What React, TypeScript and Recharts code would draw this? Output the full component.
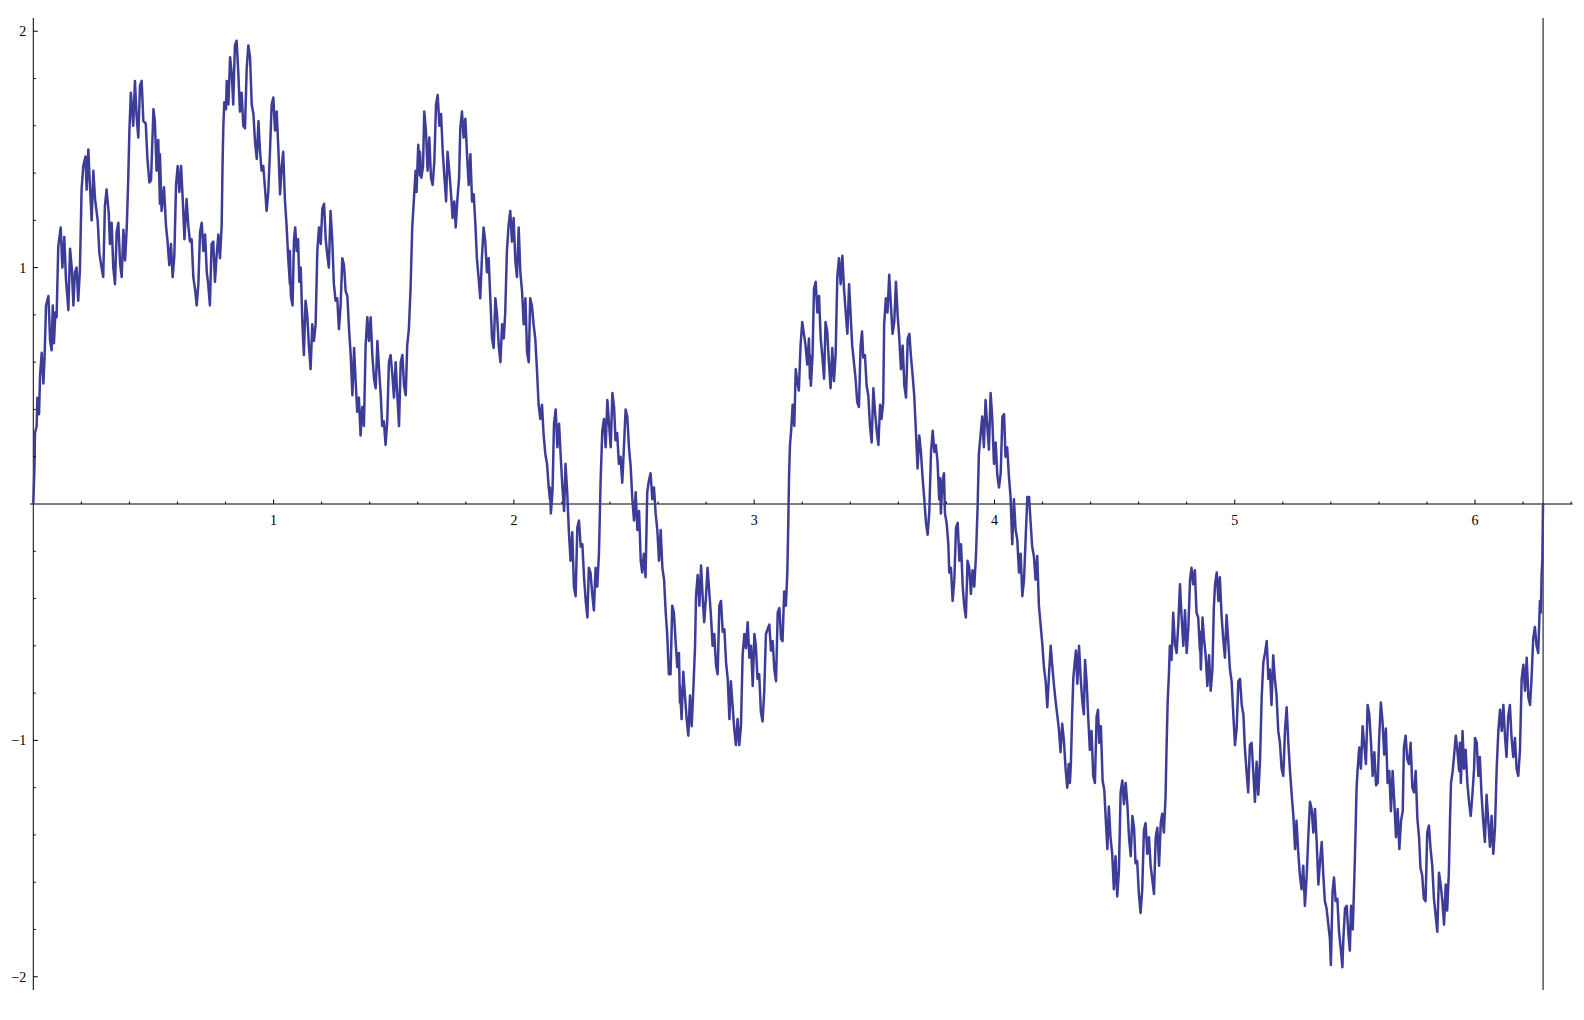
import { LineChart, Line, XAxis, YAxis, ReferenceLine, ReferenceDot } from "recharts";

// curve samples, [x, y], left to right
const partA: [number, number][] = [
  [0, 0], [0.005, 0.16], [0.007, 0.3], [0.014, 0.33], [0.017, 0.45], [0.024, 0.38], [0.028, 0.54], [0.035, 0.64],
  [0.042, 0.51], [0.047, 0.62], [0.053, 0.84], [0.063, 0.88], [0.07, 0.69], [0.076, 0.65], [0.081, 0.84], [0.086, 0.68],
  [0.092, 0.81], [0.097, 0.79], [0.104, 1.09], [0.114, 1.17], [0.121, 1.0], [0.129, 1.13], [0.136, 0.95], [0.146, 0.82],
  [0.153, 1.08], [0.16, 1.0], [0.167, 0.84], [0.173, 0.98], [0.18, 1.0], [0.187, 0.86], [0.194, 0.99], [0.201, 1.33],
  [0.208, 1.43], [0.217, 1.47], [0.222, 1.33], [0.229, 1.5], [0.236, 1.34], [0.243, 1.2], [0.25, 1.41], [0.257, 1.29],
  [0.268, 1.2], [0.275, 1.06], [0.284, 1.0], [0.291, 0.96], [0.298, 1.26], [0.305, 1.33], [0.314, 1.23], [0.319, 1.1],
  [0.326, 1.19], [0.333, 1.0], [0.34, 0.93], [0.347, 1.15], [0.354, 1.19], [0.361, 1.02], [0.368, 0.96], [0.375, 1.16],
  [0.382, 1.03], [0.389, 1.17], [0.395, 1.37], [0.4, 1.58], [0.406, 1.74], [0.416, 1.6], [0.423, 1.79], [0.43, 1.64],
  [0.437, 1.55], [0.444, 1.77], [0.451, 1.79], [0.458, 1.62], [0.468, 1.61], [0.475, 1.46], [0.483, 1.36], [0.49, 1.37],
  [0.5, 1.67], [0.506, 1.62], [0.513, 1.41], [0.52, 1.54], [0.527, 1.27],
];

const partB: [number, number][] = [
  [0.527, 1.48], [0.534, 1.24], [0.544, 1.34], [0.552, 1.18], [0.558, 1.12], [0.566, 1.01], [0.573, 1.1], [0.58, 0.96],
  [0.587, 1.05], [0.594, 1.35], [0.601, 1.43], [0.608, 1.32], [0.615, 1.43], [0.622, 1.29], [0.629, 1.12], [0.638, 1.29],
  [0.645, 1.18], [0.652, 1.11], [0.659, 1.12], [0.666, 0.96], [0.673, 0.91], [0.68, 0.84], [0.687, 0.93], [0.694, 1.15],
  [0.701, 1.19], [0.708, 1.07], [0.715, 1.14], [0.722, 0.98], [0.728, 0.93], [0.735, 0.84], [0.742, 1.1], [0.749, 1.11],
  [0.756, 0.94], [0.763, 1.05], [0.77, 1.14], [0.777, 1.04], [0.784, 1.18], [0.788, 1.46], [0.791, 1.6], [0.795, 1.7],
  [0.802, 1.67], [0.805, 1.79], [0.812, 1.69], [0.819, 1.89], [0.826, 1.82], [0.832, 1.69], [0.839, 1.94], [0.846, 1.96],
  [0.853, 1.83], [0.86, 1.66], [0.867, 1.74], [0.874, 1.6], [0.881, 1.59], [0.888, 1.84], [0.895, 1.94], [0.902, 1.89],
  [0.909, 1.69], [0.916, 1.65], [0.923, 1.53], [0.93, 1.46], [0.937, 1.62], [0.943, 1.5], [0.95, 1.41], [0.957, 1.43],
  [0.964, 1.34], [0.971, 1.24], [0.978, 1.32], [0.985, 1.49], [0.992, 1.69], [0.999, 1.72], [1.006, 1.58], [1.013, 1.66],
  [1.02, 1.5], [1.027, 1.31], [1.034, 1.43], [1.04, 1.49], [1.047, 1.29], [1.054, 1.18], [1.061, 1.04], [1.068, 0.93],
];

const partC: [number, number][] = [
  [1.068, 1.07], [1.072, 0.88], [1.079, 0.84], [1.085, 1.12], [1.09, 1.17], [1.096, 1.07], [1.102, 1.12], [1.107, 0.94],
  [1.113, 1.0], [1.12, 0.76], [1.126, 0.63], [1.133, 0.86], [1.14, 0.8], [1.147, 0.67], [1.154, 0.57], [1.161, 0.76],
  [1.168, 0.69], [1.175, 0.76], [1.182, 1.07], [1.189, 1.17], [1.196, 1.1], [1.203, 1.25], [1.21, 1.27], [1.217, 1.12],
  [1.224, 1.05], [1.23, 1.0], [1.237, 1.24], [1.244, 1.12], [1.251, 0.93], [1.258, 0.86], [1.265, 0.87], [1.272, 0.74],
  [1.279, 0.84], [1.286, 1.04], [1.293, 1.01], [1.3, 0.9], [1.307, 0.88], [1.314, 0.74], [1.321, 0.63], [1.328, 0.46],
  [1.335, 0.66], [1.341, 0.53], [1.348, 0.39], [1.355, 0.45], [1.362, 0.29], [1.369, 0.41], [1.376, 0.33], [1.383, 0.67],
  [1.39, 0.79], [1.397, 0.69], [1.404, 0.79], [1.411, 0.63], [1.418, 0.53], [1.425, 0.49], [1.432, 0.69], [1.439, 0.57],
  [1.446, 0.46], [1.452, 0.33], [1.459, 0.35], [1.466, 0.25], [1.473, 0.35], [1.48, 0.6], [1.487, 0.63], [1.494, 0.55],
  [1.501, 0.45], [1.508, 0.6], [1.515, 0.46], [1.522, 0.33], [1.529, 0.6], [1.536, 0.63], [1.543, 0.5], [1.55, 0.46],
  [1.556, 0.67], [1.563, 0.74], [1.57, 0.91], [1.577, 1.17], [1.584, 1.29], [1.591, 1.41], [1.595, 1.32], [1.602, 1.52],
  [1.609, 1.39],
];

const partD: [number, number][] = [
  [1.609, 1.49], [1.615, 1.38], [1.622, 1.43], [1.627, 1.66], [1.634, 1.58], [1.641, 1.41], [1.648, 1.55], [1.655, 1.38],
  [1.662, 1.35], [1.669, 1.45], [1.676, 1.69], [1.683, 1.73], [1.69, 1.6], [1.697, 1.65], [1.704, 1.49], [1.711, 1.38],
  [1.718, 1.28], [1.724, 1.49], [1.731, 1.41], [1.738, 1.32], [1.745, 1.21], [1.752, 1.28], [1.758, 1.17], [1.765, 1.29],
  [1.772, 1.38], [1.777, 1.59], [1.784, 1.66], [1.791, 1.55], [1.798, 1.63], [1.805, 1.48], [1.812, 1.35], [1.819, 1.48],
  [1.826, 1.28], [1.833, 1.31], [1.84, 1.18], [1.846, 1.04], [1.853, 0.96], [1.86, 0.87], [1.867, 1.04], [1.874, 1.17],
  [1.881, 1.11], [1.888, 0.98], [1.895, 1.04], [1.902, 0.87], [1.909, 0.7], [1.916, 0.66], [1.923, 0.87], [1.93, 0.8],
  [1.937, 0.67], [1.944, 0.6], [1.951, 0.76], [1.958, 0.7], [1.964, 0.81], [1.971, 1.07], [1.978, 1.18], [1.985, 1.24],
  [1.992, 1.11], [1.999, 1.21], [2.006, 1.03], [2.013, 0.96], [2.02, 1.17], [2.027, 0.98], [2.034, 0.9], [2.041, 0.76],
  [2.048, 0.87], [2.055, 0.64], [2.062, 0.6], [2.068, 0.87], [2.075, 0.84], [2.082, 0.76], [2.089, 0.7], [2.096, 0.57],
  [2.103, 0.42], [2.11, 0.36], [2.117, 0.42], [2.124, 0.29], [2.131, 0.21], [2.138, 0.17], [2.145, 0.07], [2.15, 0.02],
];

const partE: [number, number][] = [
  [2.15, 0.07], [2.154, -0.04], [2.161, 0.06], [2.167, 0.34], [2.174, 0.4], [2.181, 0.24], [2.188, 0.34], [2.195, 0.2],
  [2.202, 0.07], [2.209, -0.03], [2.215, 0.17], [2.222, 0.05], [2.229, -0.12], [2.236, -0.24], [2.243, -0.12], [2.25, -0.35],
  [2.257, -0.39], [2.264, -0.1], [2.271, -0.07], [2.278, -0.18], [2.285, -0.17], [2.292, -0.31], [2.299, -0.41], [2.306, -0.48],
  [2.312, -0.27], [2.319, -0.29], [2.326, -0.38], [2.333, -0.45], [2.34, -0.27], [2.347, -0.35], [2.354, -0.21], [2.361, 0.1],
  [2.368, 0.31], [2.375, 0.36], [2.382, 0.24], [2.389, 0.44], [2.396, 0.34], [2.403, 0.24], [2.41, 0.47], [2.417, 0.41],
  [2.423, 0.27], [2.43, 0.3], [2.437, 0.17], [2.444, 0.2], [2.451, 0.09], [2.458, 0.24], [2.465, 0.4], [2.472, 0.37],
  [2.479, 0.24], [2.486, 0.16], [2.493, 0.02], [2.5, -0.07], [2.507, 0.05], [2.514, -0.11], [2.521, -0.03], [2.528, -0.24],
  [2.534, -0.29], [2.541, -0.21], [2.548, -0.31], [2.555, 0.05], [2.562, 0.1], [2.569, 0.13], [2.576, 0.02], [2.583, 0.07],
  [2.59, -0.04], [2.597, -0.11], [2.604, -0.24], [2.611, -0.11], [2.618, -0.27], [2.625, -0.32], [2.632, -0.46], [2.638, -0.55],
  [2.645, -0.72], [2.652, -0.72], [2.659, -0.43], [2.666, -0.46], [2.673, -0.58], [2.68, -0.69], [2.687, -0.63], [2.691, -0.84],
];

const partF: [number, number][] = [
  [2.691, -0.77], [2.698, -0.91], [2.705, -0.71], [2.712, -0.81], [2.719, -0.91], [2.726, -0.98], [2.733, -0.81], [2.74, -0.94],
  [2.747, -0.78], [2.754, -0.6], [2.758, -0.39], [2.765, -0.3], [2.772, -0.43], [2.779, -0.26], [2.786, -0.4], [2.792, -0.5],
  [2.799, -0.4], [2.806, -0.27], [2.813, -0.37], [2.82, -0.47], [2.827, -0.6], [2.834, -0.55], [2.841, -0.68], [2.848, -0.72],
  [2.855, -0.43], [2.862, -0.41], [2.869, -0.54], [2.876, -0.53], [2.883, -0.67], [2.89, -0.74], [2.897, -0.91], [2.903, -0.75],
  [2.91, -0.85], [2.917, -0.95], [2.924, -1.02], [2.931, -0.91], [2.938, -1.02], [2.945, -0.94], [2.952, -0.64], [2.959, -0.55],
  [2.966, -0.61], [2.973, -0.5], [2.98, -0.65], [2.987, -0.6], [2.994, -0.77], [3.001, -0.55], [3.007, -0.6], [3.014, -0.74],
  [3.021, -0.72], [3.028, -0.88], [3.035, -0.92], [3.042, -0.79], [3.049, -0.55], [3.056, -0.53], [3.063, -0.51], [3.07, -0.62],
  [3.077, -0.58], [3.084, -0.7], [3.091, -0.75], [3.098, -0.46], [3.105, -0.44], [3.112, -0.57], [3.118, -0.58], [3.125, -0.37],
  [3.132, -0.43], [3.138, -0.29], [3.142, -0.08], [3.145, 0.11], [3.149, 0.25], [3.154, 0.31], [3.16, 0.42], [3.167, 0.33],
  [3.173, 0.57], [3.179, 0.52], [3.186, 0.48], [3.193, 0.67], [3.2, 0.77], [3.207, 0.72], [3.214, 0.67], [3.221, 0.59],
  [3.228, 0.7], [3.232, 0.53],
];

const partG: [number, number][] = [
  [3.232, 0.63], [3.236, 0.5], [3.243, 0.63], [3.249, 0.91], [3.256, 0.94], [3.263, 0.81], [3.27, 0.88], [3.277, 0.7],
  [3.284, 0.62], [3.291, 0.53], [3.297, 0.77], [3.304, 0.73], [3.311, 0.6], [3.318, 0.49], [3.325, 0.66], [3.332, 0.52],
  [3.339, 0.63], [3.346, 0.96], [3.353, 1.04], [3.36, 0.93], [3.367, 1.05], [3.374, 0.91], [3.381, 0.81], [3.388, 0.72],
  [3.395, 0.93], [3.401, 0.81], [3.408, 0.67], [3.415, 0.6], [3.422, 0.53], [3.429, 0.43], [3.436, 0.41], [3.443, 0.67],
  [3.449, 0.73], [3.454, 0.62], [3.461, 0.63], [3.468, 0.5], [3.475, 0.46], [3.482, 0.33], [3.489, 0.26], [3.496, 0.49],
  [3.503, 0.39], [3.51, 0.31], [3.517, 0.25], [3.524, 0.42], [3.53, 0.36], [3.537, 0.43], [3.541, 0.76], [3.548, 0.87],
  [3.555, 0.81], [3.562, 0.97], [3.569, 0.84], [3.576, 0.72], [3.583, 0.77], [3.59, 0.94], [3.597, 0.8], [3.604, 0.7],
  [3.611, 0.57], [3.618, 0.67], [3.625, 0.5], [3.632, 0.45], [3.639, 0.7], [3.646, 0.72], [3.652, 0.63], [3.659, 0.55],
  [3.666, 0.46], [3.673, 0.31], [3.68, 0.15], [3.687, 0.29], [3.694, 0.22], [3.701, 0.11], [3.708, 0.02], [3.715, -0.08],
  [3.722, -0.13], [3.729, -0.03], [3.736, 0.22], [3.743, 0.31], [3.75, 0.22], [3.756, 0.25], [3.763, 0.18], [3.77, 0.02],
  [3.773, 0.11],
];

const partH: [number, number][] = [
  [3.777, -0.04], [3.784, 0.1], [3.79, 0.13], [3.794, -0.04], [3.801, -0.08], [3.808, -0.17], [3.812, -0.29], [3.819, -0.27],
  [3.826, -0.41], [3.833, -0.32], [3.84, -0.1], [3.847, -0.08], [3.854, -0.24], [3.861, -0.17], [3.868, -0.35], [3.874, -0.43],
  [3.881, -0.48], [3.888, -0.24], [3.895, -0.27], [3.902, -0.38], [3.909, -0.28], [3.916, -0.35], [3.923, -0.22], [3.93, -0.01],
  [3.935, 0.21], [3.942, 0.29], [3.949, 0.37], [3.956, 0.24], [3.963, 0.44], [3.97, 0.33], [3.977, 0.23], [3.984, 0.47],
  [3.991, 0.36], [3.998, 0.17], [4.005, 0.26], [4.012, 0.12], [4.019, 0.07], [4.026, 0.13], [4.033, 0.37], [4.04, 0.38],
  [4.046, 0.2], [4.053, 0.24], [4.06, 0.12], [4.067, 0.03], [4.074, -0.17], [4.081, 0.02], [4.088, -0.11], [4.095, -0.15],
  [4.102, -0.29], [4.109, -0.21], [4.116, -0.39], [4.123, -0.32], [4.13, -0.14], [4.137, 0.03], [4.144, 0.03], [4.15, -0.07],
  [4.157, -0.18], [4.164, -0.22], [4.171, -0.32], [4.178, -0.22], [4.185, -0.43], [4.192, -0.51], [4.199, -0.59], [4.206, -0.69],
  [4.213, -0.75], [4.22, -0.86], [4.227, -0.72], [4.234, -0.6], [4.241, -0.69], [4.248, -0.77], [4.254, -0.83], [4.261, -0.89],
  [4.268, -0.95], [4.275, -1.05], [4.282, -0.93], [4.289, -1.0], [4.296, -1.12], [4.303, -1.2], [4.309, -1.1],
];

const partI: [number, number][] = [
  [4.314, -1.18], [4.318, -1.1], [4.323, -0.9], [4.328, -0.74], [4.334, -0.67], [4.339, -0.62], [4.345, -0.76], [4.352, -0.6],
  [4.359, -0.74], [4.366, -0.84], [4.372, -0.89], [4.377, -0.66], [4.384, -0.76], [4.39, -0.9], [4.397, -1.04], [4.404, -0.96],
  [4.411, -1.15], [4.418, -1.18], [4.425, -0.9], [4.431, -0.87], [4.436, -1.01], [4.443, -0.94], [4.45, -1.17], [4.457, -1.21],
  [4.464, -1.35], [4.47, -1.46], [4.476, -1.28], [4.483, -1.41], [4.49, -1.48], [4.497, -1.63], [4.504, -1.49], [4.511, -1.66],
  [4.518, -1.55], [4.525, -1.22], [4.532, -1.17], [4.539, -1.27], [4.546, -1.18], [4.553, -1.27], [4.56, -1.41], [4.567, -1.49],
  [4.574, -1.32], [4.581, -1.37], [4.587, -1.52], [4.594, -1.51], [4.601, -1.65], [4.608, -1.73], [4.615, -1.63], [4.622, -1.38],
  [4.629, -1.35], [4.636, -1.48], [4.643, -1.41], [4.65, -1.53], [4.657, -1.59], [4.664, -1.65], [4.671, -1.41], [4.678, -1.37],
  [4.685, -1.53], [4.692, -1.35], [4.698, -1.31], [4.705, -1.39], [4.712, -1.24], [4.716, -1.04], [4.721, -0.83], [4.726, -0.72],
  [4.73, -0.6], [4.737, -0.66], [4.744, -0.46], [4.751, -0.59], [4.758, -0.63], [4.765, -0.51], [4.772, -0.34], [4.779, -0.48],
  [4.786, -0.6], [4.793, -0.45], [4.8, -0.63], [4.807, -0.52], [4.814, -0.32], [4.82, -0.27], [4.827, -0.34], [4.834, -0.28],
  [4.841, -0.46], [4.848, -0.48], [4.855, -0.62],
];

const partJ: [number, number][] = [
  [4.855, -0.54], [4.859, -0.7], [4.866, -0.48], [4.872, -0.57], [4.879, -0.64], [4.886, -0.77], [4.893, -0.64], [4.9, -0.79],
  [4.907, -0.7], [4.913, -0.44], [4.918, -0.34], [4.925, -0.29], [4.932, -0.41], [4.938, -0.31], [4.945, -0.47], [4.952, -0.57],
  [4.959, -0.65], [4.966, -0.47], [4.973, -0.58], [4.98, -0.7], [4.987, -0.75], [4.994, -0.89], [5.001, -1.02], [5.008, -0.95],
  [5.015, -0.75], [5.022, -0.74], [5.029, -0.85], [5.036, -0.89], [5.042, -1.03], [5.049, -1.13], [5.056, -1.22], [5.063, -1.02],
  [5.07, -1.01], [5.077, -1.13], [5.084, -1.26], [5.091, -1.09], [5.098, -1.23], [5.105, -1.09], [5.112, -0.82], [5.119, -0.67],
  [5.126, -0.63], [5.133, -0.58], [5.14, -0.74], [5.146, -0.7], [5.153, -0.85], [5.16, -0.64], [5.167, -0.74], [5.174, -0.81],
  [5.181, -0.96], [5.188, -1.01], [5.195, -1.12], [5.202, -1.15], [5.209, -0.96], [5.216, -0.86], [5.223, -1.01], [5.23, -1.13],
  [5.237, -1.23], [5.244, -1.32], [5.251, -1.46], [5.257, -1.34], [5.264, -1.47], [5.271, -1.57], [5.278, -1.63], [5.285, -1.53],
  [5.292, -1.7], [5.299, -1.58], [5.306, -1.41], [5.313, -1.26], [5.32, -1.29], [5.327, -1.39], [5.334, -1.29], [5.341, -1.43],
  [5.348, -1.61], [5.355, -1.51], [5.362, -1.43], [5.368, -1.56], [5.375, -1.68], [5.382, -1.71],
];

const partK: [number, number][] = [
  [5.396, -1.84], [5.4, -1.95], [5.407, -1.64], [5.413, -1.58], [5.42, -1.68], [5.427, -1.67], [5.434, -1.81], [5.441, -1.88],
  [5.448, -1.96], [5.452, -1.84], [5.459, -1.71], [5.466, -1.7], [5.473, -1.82], [5.479, -1.89], [5.484, -1.7], [5.491, -1.8],
  [5.496, -1.64], [5.5, -1.5], [5.504, -1.33], [5.507, -1.2], [5.511, -1.13], [5.518, -1.03], [5.525, -1.12], [5.532, -0.94],
  [5.539, -1.02], [5.546, -1.1], [5.553, -0.85], [5.56, -0.89], [5.567, -1.01], [5.574, -1.15], [5.581, -1.05], [5.588, -1.19],
  [5.595, -1.18], [5.601, -0.99], [5.608, -0.84], [5.615, -0.92], [5.622, -1.06], [5.629, -0.95], [5.636, -1.18], [5.643, -1.13],
  [5.65, -1.3], [5.657, -1.13], [5.664, -1.26], [5.671, -1.41], [5.678, -1.29], [5.685, -1.46], [5.692, -1.34], [5.699, -1.3],
  [5.704, -1.03], [5.711, -0.98], [5.718, -1.08], [5.725, -1.1], [5.732, -1.01], [5.739, -1.2], [5.746, -1.22], [5.753, -1.13],
  [5.76, -1.33], [5.767, -1.41], [5.773, -1.54], [5.78, -1.57], [5.787, -1.67], [5.794, -1.68], [5.801, -1.39], [5.808, -1.36],
  [5.815, -1.46], [5.822, -1.53], [5.829, -1.67], [5.836, -1.74], [5.843, -1.81], [5.85, -1.56], [5.857, -1.61], [5.864, -1.68],
  [5.871, -1.78], [5.878, -1.61], [5.884, -1.72], [5.891, -1.56], [5.896, -1.33], [5.9, -1.18], [5.907, -1.13], [5.914, -1.05],
  [5.92, -0.98], [5.927, -1.05], [5.934, -1.13],
];

const partL: [number, number][] = [
  [5.937, -1.01], [5.941, -1.18], [5.948, -0.96], [5.954, -1.12], [5.961, -1.04], [5.968, -1.18], [5.975, -1.26], [5.982, -1.32],
  [5.989, -1.23], [5.996, -1.12], [6.0, -0.99], [6.007, -1.01], [6.014, -1.15], [6.02, -1.07], [6.027, -1.23], [6.034, -1.34],
  [6.041, -1.43], [6.048, -1.23], [6.055, -1.34], [6.062, -1.45], [6.069, -1.32], [6.076, -1.48], [6.083, -1.37], [6.09, -1.12],
  [6.097, -0.96], [6.104, -0.87], [6.111, -0.96], [6.118, -0.85], [6.125, -0.99], [6.131, -1.07], [6.138, -0.9], [6.145, -0.85],
  [6.152, -0.99], [6.159, -1.07], [6.166, -0.99], [6.173, -1.12], [6.18, -1.15], [6.187, -1.04], [6.194, -0.74], [6.201, -0.68],
  [6.208, -0.79], [6.215, -0.65], [6.222, -0.82], [6.229, -0.85], [6.235, -0.74], [6.242, -0.57], [6.249, -0.52], [6.256, -0.6],
  [6.263, -0.63], [6.27, -0.41], [6.274, -0.46], [6.277, -0.3], [6.28, -0.24], [6.282, -0.07], [6.283, 0],
];

// axis ticks
const xMajorTicks = [1, 2, 3, 4, 5, 6];
const xMinorTicks = [
  0.2, 0.4, 0.6, 0.8, 1.2, 1.4, 1.6, 1.8, 2.2, 2.4, 2.6, 2.8, 3.2, 3.4, 3.6, 3.8,
  4.2, 4.4, 4.6, 4.8, 5.2, 5.4, 5.6, 5.8, 6.2, 6.4,
];
const yMajorTicks = [-2, -1, 1, 2];
const yMinorTicks = [
  -1.8, -1.6, -1.4, -1.2, -0.8, -0.6, -0.4, -0.2, 0.2, 0.4, 0.6, 0.8, 1.2, 1.4, 1.6, 1.8,
];
const TWO_PI = 6.2832;

const data = [
  ...partA, ...partB, ...partC, ...partD, ...partE, ...partF,
  ...partG, ...partH, ...partI, ...partJ, ...partK, ...partL,
].map(([x, y]) => ({ x, y }));

const font = { fontFamily: "'Liberation Serif', 'DejaVu Serif', serif", fontSize: 14, fill: "#000" };
const fmt = (v: number) => (v < 0 ? "\u2212" + Math.abs(v) : String(v));

export default function App() {
  return (
    <div style={{ position: "absolute", left: 0, top: 0, width: 1584, height: 1020, background: "#fff" }}>
      <LineChart width={1584} height={1020} data={data} margin={{ top: 18, right: 11.4, bottom: 30, left: 30 }}>
        <XAxis type="number" dataKey="x" domain={[-0.0137, 6.406]} hide />
        <YAxis type="number" domain={[-2.056, 2.056]} hide />

        <ReferenceLine y={0} stroke="#000" strokeWidth={1} />
        <ReferenceLine x={0} stroke="#000" strokeWidth={1} />
        <ReferenceLine x={TWO_PI} stroke="#000" strokeWidth={1} />

        {xMinorTicks.map((v) => (
          <ReferenceDot key={"xm" + v} x={v} y={0} r={0} ifOverflow="visible"
            shape={(p: any) => <line x1={p.cx} y1={p.cy} x2={p.cx} y2={p.cy - 2.5} stroke="#000" />} />
        ))}
        {xMajorTicks.map((v) => (
          <ReferenceDot key={"xM" + v} x={v} y={0} r={0} ifOverflow="visible"
            shape={(p: any) => (
              <g>
                <line x1={p.cx} y1={p.cy} x2={p.cx} y2={p.cy - 4.5} stroke="#000" />
                <text x={p.cx} y={p.cy + 21} textAnchor="middle" {...font}>{fmt(v)}</text>
              </g>
            )} />
        ))}
        {yMinorTicks.map((v) => (
          <ReferenceDot key={"ym" + v} x={0} y={v} r={0} ifOverflow="visible"
            shape={(p: any) => <line x1={p.cx} y1={p.cy} x2={p.cx + 2.5} y2={p.cy} stroke="#000" />} />
        ))}
        {yMajorTicks.map((v) => (
          <ReferenceDot key={"yM" + v} x={0} y={v} r={0} ifOverflow="visible"
            shape={(p: any) => (
              <g>
                <line x1={p.cx} y1={p.cy} x2={p.cx + 4.5} y2={p.cy} stroke="#000" />
                <text x={p.cx - 7} y={p.cy} dy="0.35em" textAnchor="end" {...font}>{fmt(v)}</text>
              </g>
            )} />
        ))}

        <Line type="linear" dataKey="y" stroke="#3d3d99" strokeWidth={2.5} strokeLinejoin="round" dot={false} isAnimationActive={false} />
      </LineChart>
    </div>
  );
}
